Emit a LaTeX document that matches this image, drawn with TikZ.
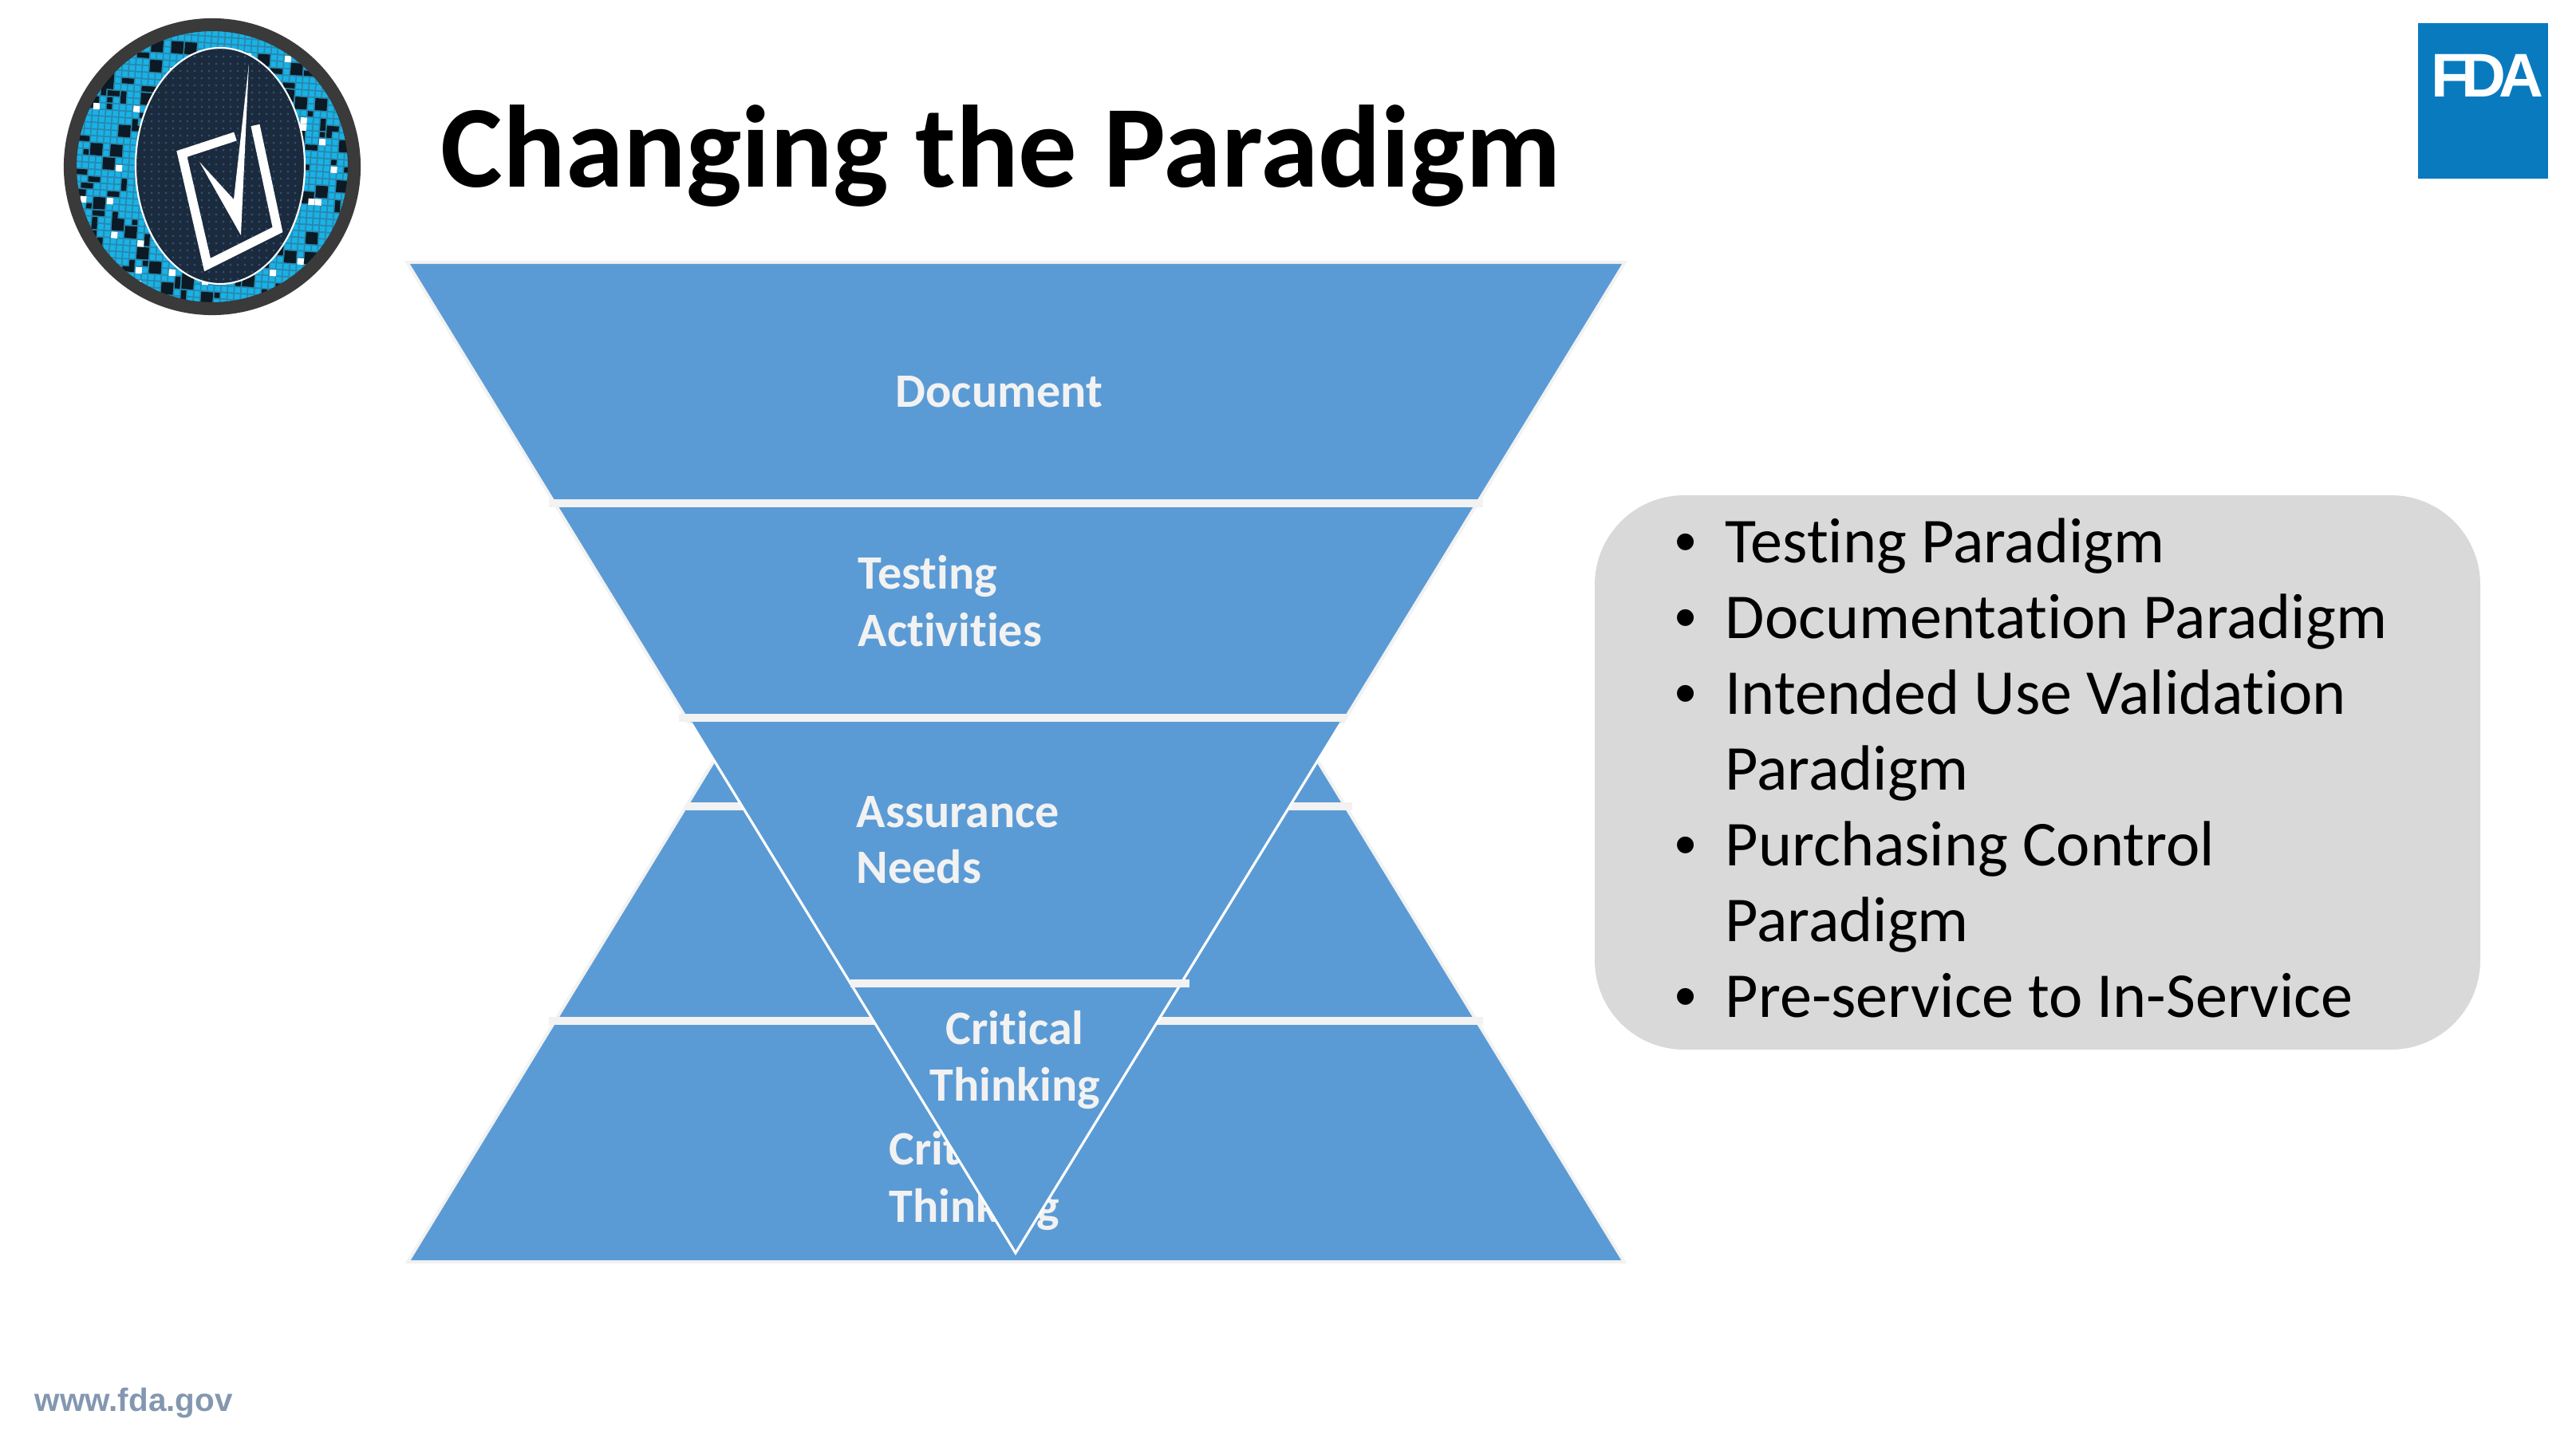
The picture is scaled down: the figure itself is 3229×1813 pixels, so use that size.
\documentclass[tikz,border=0pt]{standalone}
\usepackage{fontspec}
\setmainfont[Ligatures=NoCommon]{Carlito}
\newfontfamily\arialfont{Liberation Sans}
\usepackage{xcolor}
\definecolor{pyramidblue}{HTML}{5B9BD5}
\definecolor{bandgray}{HTML}{F2F2F2}
\definecolor{boxgray}{HTML}{D9D9D9}
\definecolor{fdablue}{HTML}{0A7ABF}
\definecolor{urlblue}{HTML}{8497B0}
\definecolor{ringgray}{HTML}{3A3A3A}
\definecolor{cellcyan}{HTML}{19B2E6}
\definecolor{cellgap}{HTML}{2A86AA}
\definecolor{cellblack}{HTML}{0B1A24}
\definecolor{ovaldark}{HTML}{1B2A3C}
\definecolor{digitblue}{HTML}{2A4F75}
\tikzset{
  layertext/.style={text=bandgray,font=\fontsize{17.1}{20}\selectfont\bfseries,anchor=base west,inner sep=0pt},
  listtext/.style={text=black,font=\fontsize{22.8}{26}\selectfont,anchor=base west,inner sep=0pt},
  listdot/.style={text=black,font=\arialfont\fontsize{22}{26}\selectfont,anchor=base,inner sep=0pt},
  bandline/.style={bandgray,line width=2.85pt},
}
\begin{document}
\begin{tikzpicture}[x=0.01cm,y=-0.01cm]
        \useasboundingbox (0,0) rectangle (3229,1813);
        \fill[white] (0,0) rectangle (3229,1813);
        % seal
        \begin{scope}
            \clip (266,209) circle[radius=172];
            \fill[cellgap] (60,0) rectangle (480,420);
            \pgfmathsetseed{23}
            \begin{scope}[rotate around={-4:(266,209)}]
            \foreach \i in {0,...,48}{
                \foreach \j in {0,...,48}{
                    \fill[cellcyan] (70+\i*8.4,5+\j*8.4) rectangle ++(6.6,6.6);
                }
            }
            \foreach \n in {1,...,340}{
                \pgfmathrandominteger{\cellx}{0}{48}
                \pgfmathrandominteger{\celly}{0}{48}
                \pgfmathrandominteger{\cellw}{1}{2}
                \pgfmathrandominteger{\cellh}{1}{2}
                \fill[cellblack] (70+\cellx*8.4,5+\celly*8.4) rectangle ++(\cellw*8.4-1.8,\cellh*8.4-1.8);
            }
            \foreach \n in {1,...,70}{
                \pgfmathrandominteger{\cellx}{0}{48}
                \pgfmathrandominteger{\celly}{0}{48}
                \fill[white] (70+\cellx*8.4,5+\celly*8.4) rectangle ++(8,8);
            }
            \end{scope}
        \end{scope}
        \draw[ringgray,line width=4.6pt] (266,209) circle[radius=178];
        \fill[ovaldark] (276,208) ellipse[x radius=106,y radius=148];
        \begin{scope}
            \clip (276,208) ellipse[x radius=104,y radius=146];
            \foreach \i in {0,...,22}{
                \foreach \j in {0,...,32}{
                    \fill[digitblue] (172+\i*9,62+\j*9) circle[radius=1.6];
                }
            }
        \end{scope}
        \draw[white,line width=0.6pt] (276,208) ellipse[x radius=106,y radius=148];
        \draw[white,line width=3.2pt,miter limit=4] (295,171)--(228,193)--(260,332)--(348,288)--(320,157);
        \fill[white] (250,203)--(293,250)--(312,80)--(302,295)--cycle;
        % title and logo
        \node[font=\fontsize{41.7}{48}\selectfont\bfseries,anchor=base west,inner sep=0pt] (title) at (552,235) {Changing the Paradigm};
        \fill[fdablue] (3031,29) rectangle (3194,224);
        \node[text=white,font=\arialfont\fontsize{22}{24}\selectfont\bfseries,anchor=base west,inner sep=0pt] (fdaname) at (3047,122) {F\kern-.12em D\kern-.12em A};
        % pyramid
        \draw[bandgray,line width=2.3pt] (515,1580)--(1273,339)--(2032,1580)--cycle;
        \fill[pyramidblue] (515,1580)--(1273,339)--(2032,1580)--cycle;
        \draw[bandline] (860,1011)--(1695,1011);
        \draw[bandline] (688,1280)--(1859,1280);
        \node[layertext] (critlow) at (1114,1460) {Critical};
        \node[layertext] (thinklow) at (1114,1532) {Thinking};
        % funnel
        \draw[bandgray,line width=2.3pt] (866,906)--(514,331)--(2033,331)--(1681,906);
        \fill[pyramidblue] (514,331)--(2033,331)--(1273,1571)--cycle;
        \draw[white,line width=0.9pt] (866,906)--(1273,1571)--(1681,906);
        \draw[bandline] (688,631)--(1859,631);
        \draw[bandline] (851,900)--(1687,900);
        \draw[bandline] (1066,1233)--(1491,1233);
        \node[layertext] (document) at (1122,511) {Document};
        \node[layertext] (testing) at (1075,739) {Testing};
        \node[layertext] (activities) at (1075,811) {Activities};
        \node[layertext] (assurance) at (1073,1038) {Assurance};
        \node[layertext] (needs) at (1073,1108) {Needs};
        \node[layertext,anchor=base] (crittop) at (1272,1310) {Critical};
        \node[layertext,anchor=base] (thinktop) at (1272,1381) {Thinking};
        % list box
        \fill[boxgray,rounded corners=1.12cm] (1999,621) rectangle (3109,1316);
        \node[listdot] (bulletone) at (2113,706) {•};
        \node[listtext] (lineone) at (2162,706) {Testing Paradigm};
        \node[listdot] (bullettwo) at (2113,801) {•};
        \node[listtext] (linetwo) at (2162,801) {Documentation Paradigm};
        \node[listdot] (bulletthree) at (2113,896) {•};
        \node[listtext] (linethree) at (2162,896) {Intended Use Validation};
        \node[listtext] (linefour) at (2162,991) {Paradigm};
        \node[listdot] (bulletfive) at (2113,1086) {•};
        \node[listtext] (linefive) at (2162,1086) {Purchasing Control};
        \node[listtext] (linesix) at (2162,1181) {Paradigm};
        \node[listdot] (bulletseven) at (2113,1276) {•};
        \node[listtext] (lineseven) at (2162,1276) {Pre-service to In-Service};
        % footer
        \node[text=urlblue,font=\arialfont\fontsize{11.5}{14}\selectfont\bfseries,anchor=base west,inner sep=0pt] (url) at (43,1769) {www.fda.gov};
    \end{tikzpicture}
\end{document}
